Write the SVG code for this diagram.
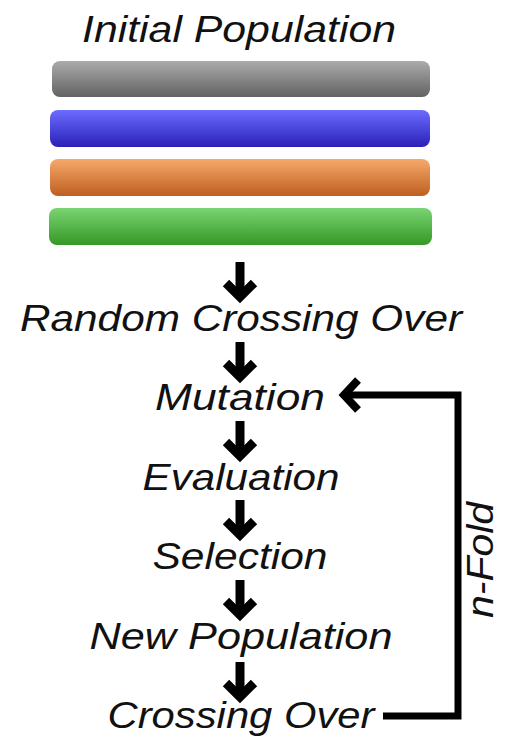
<svg xmlns="http://www.w3.org/2000/svg" width="507" height="739" viewBox="0 0 507 739">
<defs>
<linearGradient id="gGray" x1="0" y1="0" x2="0" y2="1"><stop offset="0" stop-color="#ababab"/><stop offset="1" stop-color="#626262"/></linearGradient>
<linearGradient id="gBlue" x1="0" y1="0" x2="0" y2="1"><stop offset="0" stop-color="#6c6cff"/><stop offset="1" stop-color="#2a20b8"/></linearGradient>
<linearGradient id="gOrange" x1="0" y1="0" x2="0" y2="1"><stop offset="0" stop-color="#f8a86c"/><stop offset="1" stop-color="#bd6020"/></linearGradient>
<linearGradient id="gGreen" x1="0" y1="0" x2="0" y2="1"><stop offset="0" stop-color="#7ad472"/><stop offset="1" stop-color="#369826"/></linearGradient>
<g id="down">
<line x1="0" y1="0" x2="0" y2="32" stroke="#000" stroke-width="9"/>
<polyline points="-14,21 0,35 14,21" fill="none" stroke="#000" stroke-width="9" stroke-miterlimit="10"/>
</g>
</defs>
<style>
.t{font-family:"Liberation Sans","DejaVu Sans",sans-serif;font-style:italic;font-size:36px;fill:#111;}
.fb{fill:none;stroke:#000;stroke-width:7;}
.head{fill:none;stroke:#000;stroke-width:8;stroke-miterlimit:10;}
</style>
<rect width="507" height="739" fill="#fff"/>
<g id="initial">
<text class="t" x="239" y="42" text-anchor="middle" textLength="314" lengthAdjust="spacingAndGlyphs">Initial Population</text>
<rect x="52" y="61" width="378" height="36" rx="8" fill="url(#gGray)"/>
<rect x="50" y="110" width="380" height="37" rx="8" fill="url(#gBlue)"/>
<rect x="50" y="159" width="380" height="37" rx="8" fill="url(#gOrange)"/>
<rect x="49" y="208" width="383" height="37" rx="8" fill="url(#gGreen)"/>
</g>
<g id="random"><text class="t" x="241" y="331" text-anchor="middle" textLength="442" lengthAdjust="spacingAndGlyphs">Random Crossing Over</text></g>
<g id="mutation"><text class="t" x="240" y="410" text-anchor="middle" textLength="170" lengthAdjust="spacingAndGlyphs">Mutation</text></g>
<g id="evaluation"><text class="t" x="241" y="490" text-anchor="middle" textLength="197" lengthAdjust="spacingAndGlyphs">Evaluation</text></g>
<g id="selection"><text class="t" x="240" y="569" text-anchor="middle" textLength="175" lengthAdjust="spacingAndGlyphs">Selection</text></g>
<g id="newpop"><text class="t" x="241" y="649" text-anchor="middle" textLength="303" lengthAdjust="spacingAndGlyphs">New Population</text></g>
<g id="crossing"><text class="t" x="241" y="728" text-anchor="middle" textLength="267" lengthAdjust="spacingAndGlyphs">Crossing Over</text></g>
<g id="nfold"><text class="t" transform="translate(493,560) rotate(-90)" text-anchor="middle" font-size="30" textLength="116" lengthAdjust="spacingAndGlyphs">n-Fold</text></g>
<g id="connectors">
<use href="#down" x="240" y="262"/>
<use href="#down" x="240" y="342"/>
<use href="#down" x="240" y="421"/>
<use href="#down" x="240" y="500"/>
<use href="#down" x="240" y="580"/>
<use href="#down" x="240" y="662"/>
<g id="feedback"><polyline class="fb" points="383,716 458,716 458,395 346,395"/><polyline class="head" points="358,380 344,395 358,410"/></g>
</g>
</svg>
